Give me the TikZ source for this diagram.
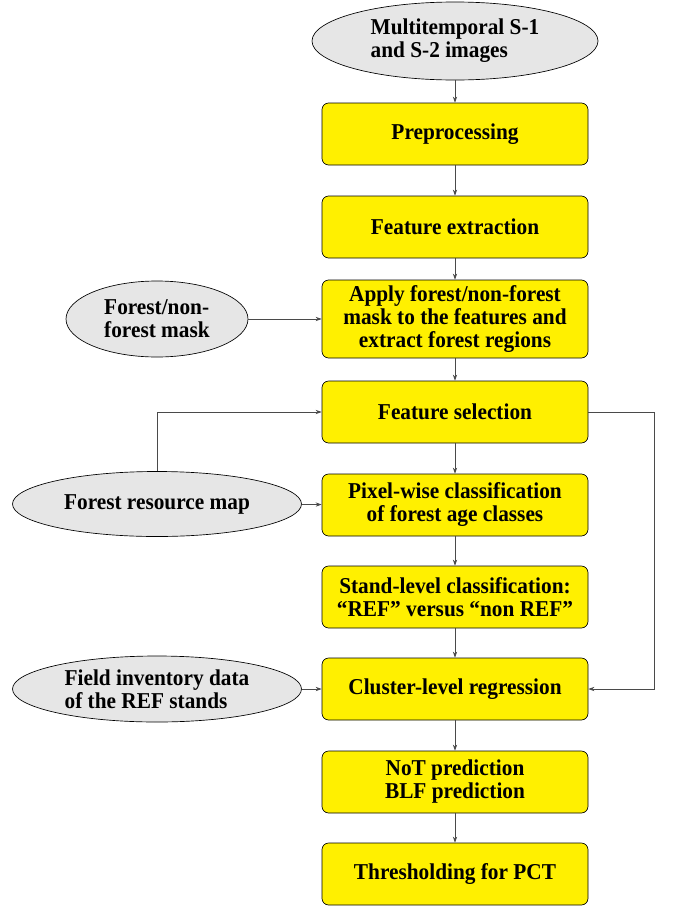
\documentclass[tikz,border=0pt]{standalone}
\usepackage{fontspec}
\setmainfont{Liberation Serif}[FakeStretch=0.94]
\usetikzlibrary{shapes.geometric,arrows.meta}
\definecolor{boxyellow}{HTML}{FFF000}
\definecolor{ellgray}{HTML}{E6E6E6}
\definecolor{linegray}{HTML}{4A4A4A}
\begin{document}
\begin{tikzpicture}[x=0.75pt,y=-0.75pt,
  every node/.style={font=\fontsize{17}{17.25}\selectfont\bfseries},
  stepbox/.style={rectangle, rounded corners=5pt, draw=black, line width=0.5pt, fill=boxyellow,
    minimum width=199.5pt, minimum height=46.5pt, align=center, inner sep=2pt},
  datain/.style={ellipse, draw=black, line width=0.5pt, fill=ellgray, inner sep=0pt, align=left},
  conn/.style={draw=linegray, line width=0.6pt, -{Stealth[length=4.5pt,width=3.2pt]}}
]
\useasboundingbox (0,0) rectangle (674,907);
\node[datain, minimum width=214.5pt, minimum height=58.5pt] (src) at (455,41) {Multitemporal S-1\\and S-2 images};
\node[stepbox] (pre) at (455,134) {Preprocessing};
\node[stepbox] (fe) at (455,227) {Feature extraction};
\node[stepbox, minimum height=58.5pt] (app) at (455,319) {Apply forest/non-forest\\mask to the features and\\extract forest regions};
\node[stepbox] (fs) at (455,412) {Feature selection};
\node[stepbox] (pix) at (455,505) {Pixel-wise classification\\of forest age classes};
\node[stepbox] (std) at (455,597) {Stand-level classification:\\``REF'' versus ``non REF''};
\node[stepbox] (clu) at (455,689) {Cluster-level regression};
\node[stepbox] (nt) at (455,782) {NoT prediction\\BLF prediction};
\node[stepbox] (thr) at (455,874) {Thresholding for PCT};

\node[datain, minimum width=136.5pt, minimum height=57pt] (mask) at (157,319) {Forest/non-\\forest mask};
\node[datain, minimum width=216.75pt, minimum height=48.75pt] (frm) at (157,504) {Forest resource map};
\node[datain, minimum width=216.75pt, minimum height=49.5pt] (fld) at (157,689) {Field inventory data\\of the REF stands};

\coordinate (fbtop) at (654,412);
\coordinate (fbbot) at (654,689);
\coordinate (frmup) at (157,412);

\draw[conn] (src) -- (pre);
\draw[conn] (pre) -- (fe);
\draw[conn] (fe) -- (app);
\draw[conn] (app) -- (fs);
\draw[conn] (fs) -- (pix);
\draw[conn] (pix) -- (std);
\draw[conn] (std) -- (clu);
\draw[conn] (clu) -- (nt);
\draw[conn] (nt) -- (thr);
\draw[conn] (mask) -- (app);
\draw[conn] (frm) -- (pix);
\draw[conn] (fld) -- (clu);
\draw[conn] (frm.north) -- (frmup) -- (fs.west);
\draw[conn] (fs.east) -- (fbtop) -- (fbbot) -- (clu.east);
\end{tikzpicture}
\end{document}
